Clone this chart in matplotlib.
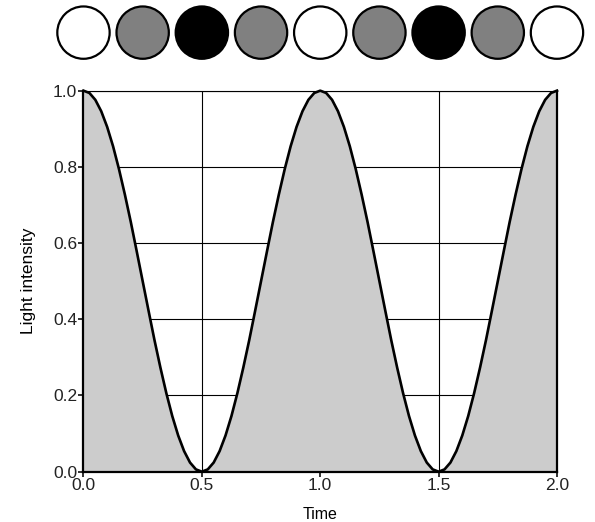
import matplotlib

matplotlib.use("Agg")
import matplotlib.pyplot as plt
import numpy as np

plt.rcParams["font.family"] = ["Liberation Sans", "DejaVu Sans"]

# light intensity, every 0.025 time units from 0 to 2
intensity = [1.000, 0.994, 0.976, 0.946, 0.905, 0.854, 0.794, 0.727, 0.655, 0.578,
             0.500, 0.422, 0.345, 0.273, 0.206, 0.146, 0.095, 0.054, 0.024, 0.006,
             0.000, 0.006, 0.024, 0.054, 0.095, 0.146, 0.206, 0.273, 0.345, 0.422,
             0.500, 0.578, 0.655, 0.727, 0.794, 0.854, 0.905, 0.946, 0.976, 0.994,
             1.000, 0.994, 0.976, 0.946, 0.905, 0.854, 0.794, 0.727, 0.655, 0.578,
             0.500, 0.422, 0.345, 0.273, 0.206, 0.146, 0.095, 0.054, 0.024, 0.006,
             0.000, 0.006, 0.024, 0.054, 0.095, 0.146, 0.206, 0.273, 0.345, 0.422,
             0.500, 0.578, 0.655, 0.727, 0.794, 0.854, 0.905, 0.946, 0.976, 0.994,
             1.000]
time = np.linspace(0.0, 2.0, len(intensity))

# the row of discs above the plot: brightness at each quarter step
disc_time = [0.0, 0.25, 0.5, 0.75, 1.0, 1.25, 1.5, 1.75, 2.0]
disc_intensity = [1.0, 0.5, 0.0, 0.5, 1.0, 0.5, 0.0, 0.5, 1.0]

x_ticks = [0.0, 0.5, 1.0, 1.5, 2.0]
y_ticks = [0.0, 0.2, 0.4, 0.6, 0.8, 1.0]

fig = plt.figure(figsize=(5.95, 5.22), dpi=100)
ax = fig.add_axes([0.1403, 0.0964, 0.7958, 0.7299])

ax.fill_between(time, intensity, 0, color="#cccccc", zorder=3, linewidth=0)
ax.plot(time, intensity, color="black", linewidth=1.9, zorder=4, clip_on=False,
        solid_joinstyle="round")

ax.set_xlim(0, 2)
ax.set_ylim(0, 1)
ax.set_xticks(x_ticks)
ax.set_yticks(y_ticks)
ax.set_xticklabels([f"{v:.1f}" for v in x_ticks])
ax.set_yticklabels([f"{v:.1f}" for v in y_ticks])
ax.grid(True, color="black", linewidth=0.8, zorder=1)
ax.set_axisbelow(True)

ax.tick_params(direction="out", length=3.5, width=1.3, labelsize=12.5,
               colors="#222222", pad=1.0)
for side in ("left", "bottom", "right"):
    ax.spines[side].set_linewidth(1.6)
    ax.spines[side].set_zorder(5)
ax.spines["top"].set_linewidth(0.8)

ax.set_xlabel("Time", fontsize=11.5, labelpad=10)
ax.set_ylabel("Light intensity", fontsize=12.5, labelpad=12)

top = fig.add_axes([0.1403, 0.88, 0.7958, 0.115])
top.set_xlim(0, 2)
top.set_ylim(0, 1)
top.axis("off")
top.scatter(disc_time, [0.5] * len(disc_time), s=1420,
            c=[str(v) for v in disc_intensity], edgecolors="black",
            linewidths=1.6, clip_on=False)

fig.savefig("out.png", dpi=100)
